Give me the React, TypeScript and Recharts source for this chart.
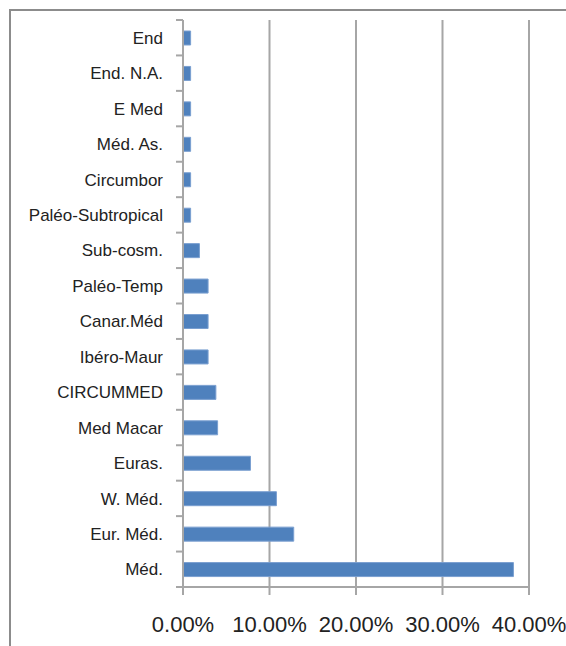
import { Bar, BarChart, CartesianGrid, XAxis, YAxis } from "recharts";

const categories = [
  "End",
  "End. N.A.",
  "E Med",
  "Méd. As.",
  "Circumbor",
  "Paléo-Subtropical",
  "Sub-cosm.",
  "Paléo-Temp",
  "Canar.Méd",
  "Ibéro-Maur",
  "CIRCUMMED",
  "Med Macar",
  "Euras.",
  "W. Méd.",
  "Eur. Méd.",
  "Méd.",
];

const shares = [
  0.0088, 0.0088, 0.0088, 0.0088, 0.0088, 0.0088, 0.019, 0.029, 0.029, 0.029,
  0.038, 0.04, 0.078, 0.108, 0.128, 0.382,
];

const xTicks = [0, 0.1, 0.2, 0.3, 0.4];

const data = categories.map((name, i) => ({ name, value: shares[i] }));

const W = 566;
const H = 646;
const TOP = 20;
const BOTTOM = 59;
const band = (H - TOP - BOTTOM) / categories.length;
const AXIS = "#a6a6a6";

function CategoryTick(props: any) {
  const { x, y, payload, index } = props;
  const ax = x + 20;
  return (
    <g>
      <line x1={ax - 7} x2={ax} y1={y - band / 2} y2={y - band / 2} stroke={AXIS} strokeWidth={2} />
      {index === categories.length - 1 && (
        <line x1={ax - 7} x2={ax} y1={y + band / 2} y2={y + band / 2} stroke={AXIS} strokeWidth={2} />
      )}
      <text x={x} y={y} dy="0.36em" textAnchor="end" fill="#222" fontSize={17}>
        {payload.value}
      </text>
    </g>
  );
}

export default function App() {
  return (
    <div
      style={{
        position: "fixed",
        left: 0,
        top: 0,
        width: W,
        height: H,
        background: "#fff",
        overflow: "hidden",
        fontFamily: '"Liberation Sans", Arial, sans-serif',
      }}
    >
      <div
        style={{
          position: "absolute",
          left: 9,
          top: 9,
          width: W,
          height: H,
          borderLeft: "2px solid #8c8c8c",
          borderTop: "2px solid #8c8c8c",
        }}
      />
      <div style={{ position: "absolute", left: 0, top: 0 }}>
        <BarChart
          width={W}
          height={H}
          data={data}
          layout="vertical"
          margin={{ top: TOP, right: 37, bottom: 0, left: 0 }}
        >
          <CartesianGrid horizontal={false} stroke={AXIS} strokeWidth={2} />
          <XAxis
            type="number"
            domain={[0, 0.4]}
            ticks={xTicks}
            tickFormatter={(v: number) => (v * 100).toFixed(2) + "%"}
            axisLine={{ stroke: AXIS, strokeWidth: 2 }}
            tickLine={{ stroke: AXIS, strokeWidth: 2 }}
            tickSize={8}
            tickMargin={21}
            tick={{ fill: "#222", fontSize: 22 }}
            height={BOTTOM}
            interval={0}
          />
          <YAxis
            type="category"
            dataKey="name"
            width={183}
            axisLine={{ stroke: AXIS, strokeWidth: 2 }}
            tickLine={false}
            tickSize={0}
            tickMargin={20}
            tick={<CategoryTick />}
            interval={0}
          />
          <Bar
            dataKey="value"
            fill="#4f81bd"
            stroke="#7a9fd0"
            strokeWidth={1}
            barSize={14}
            isAnimationActive={false}
          />
        </BarChart>
      </div>
    </div>
  );
}
